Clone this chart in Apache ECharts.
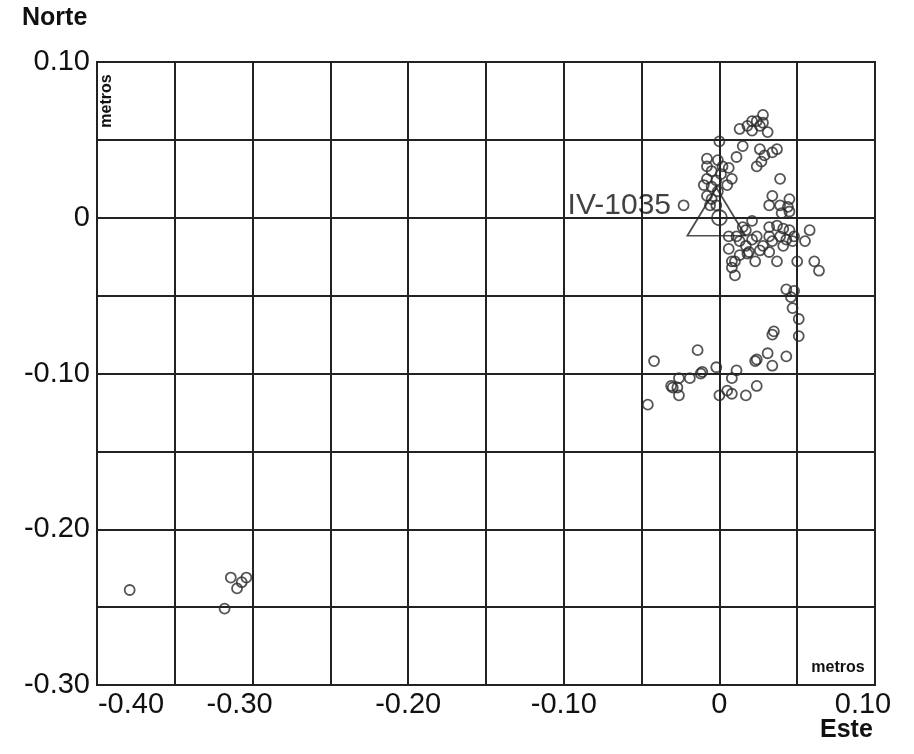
<!DOCTYPE html>
<html>
<head>
<meta charset="utf-8">
<script src="https://cdn.jsdelivr.net/npm/echarts@6/dist/echarts.min.js"></script>
<style>html,body{margin:0;padding:0;background:#fff}#c{width:914px;height:754px}</style>
</head>
<body>
<div id="c"></div>
<script>
// Axis tick labels
const xTickLabels = {'-40':'-0.40','-30':'-0.30','-20':'-0.20','-10':'-0.10','0':'0','10':'0.10'};
const yTickLabels = {'10':'0.10','0':'0','-10':'-0.10','-20':'-0.20','-30':'-0.30'};

// Station IV-1035 (reference point)
const stationName = 'IV-1035';
const stationPoint = [[0, 0]];

// Displacement observations (Este, Norte) in metres
const obsEste = [
 0.028,0.024,0.021,0.018,0.013,0.021,0.026,0.031,0.028,0.000,0.015,0.026,0.034,0.037,0.011,0.029,
 -0.008,-0.001,0.002,0.027,0.024,-0.008,0.006,-0.005,0.001,0.008,-0.008,-0.002,0.039,-0.010,-0.005,0.005,
 -0.001,-0.008,-0.005,0.034,0.045,0.032,0.039,0.044,-0.006,-0.002,-0.023,0.040,0.045,0.021,0.015,0.017,
 0.032,0.037,0.041,0.045,0.058,0.006,0.011,0.013,0.021,0.024,0.032,0.039,0.043,0.048,0.034,0.041,
 0.047,0.055,0.028,0.017,0.006,0.026,0.019,0.013,0.032,0.018,0.023,0.010,0.008,0.037,0.050,0.061,
 0.064,0.008,0.010,0.043,0.048,
 0.046,0.047,0.051,0.051,0.035,0.034,0.031,0.043,0.034,0.024,0.023,-0.014,-0.042,-0.002,-0.011,-0.012,
 0.011,0.008,-0.019,-0.026,-0.031,-0.027,-0.030,-0.026,0.000,0.005,0.008,0.017,0.024,-0.046,
 -0.379,-0.314,-0.310,-0.307,-0.304,-0.318
];
const obsNorte = [
 0.066,0.062,0.062,0.059,0.057,0.056,0.059,0.055,0.061,0.049,0.046,0.044,0.042,0.044,0.039,0.040,
 0.038,0.037,0.033,0.036,0.033,0.033,0.032,0.030,0.028,0.025,0.025,0.024,0.025,0.021,0.020,0.021,
 0.017,0.014,0.012,0.014,0.012,0.008,0.008,0.007,0.008,0.008,0.008,0.003,0.004,-0.002,-0.006,-0.008,
 -0.006,-0.005,-0.007,-0.008,-0.008,-0.012,-0.012,-0.015,-0.014,-0.012,-0.012,-0.012,-0.014,-0.012,-0.015,-0.018,
 -0.015,-0.015,-0.018,-0.018,-0.020,-0.021,-0.022,-0.024,-0.022,-0.023,-0.028,-0.028,-0.028,-0.028,-0.028,-0.028,
 -0.034,-0.032,-0.037,-0.046,-0.047,
 -0.051,-0.058,-0.065,-0.076,-0.073,-0.075,-0.087,-0.089,-0.095,-0.091,-0.092,-0.085,-0.092,-0.096,-0.099,-0.100,
 -0.098,-0.103,-0.103,-0.103,-0.108,-0.109,-0.109,-0.114,-0.114,-0.111,-0.113,-0.114,-0.108,-0.120,
 -0.239,-0.231,-0.238,-0.234,-0.231,-0.251
];

const obs = obsEste.map((x, i) => [x, obsNorte[i]]);
const key = v => String(Math.round(v * 100));

const chart = echarts.init(document.getElementById('c'), null, {renderer: 'canvas'});
const font = 'Liberation Sans, Arial, sans-serif';
const fs = 29;
chart.setOption({
  animation: false,
  backgroundColor: '#fff',
  grid: {left: 97, right: 39, top: 62, bottom: 69, show: true, borderColor: '#222', borderWidth: 2},
  xAxis: {
    type: 'value', min: -0.40, max: 0.10, interval: 0.05,
    axisLine: {show: false}, axisTick: {show: false},
    splitLine: {show: true, lineStyle: {color: '#222', width: 2}},
    axisLabel: {
      interval: 1, margin: 5, color: '#111', fontSize: fs, fontFamily: font,
      formatter: v => {
        const k = key(v);
        const t = xTickLabels[k];
        if (t === undefined) return '';
        if (k === '-40') return '{a|' + t + '}';
        if (k === '-30') return '{b|' + t + '}';
        if (k === '10') return '{c|' + t + '}';
        return t;
      },
      rich: {
        a: {fontSize: fs, fontFamily: font, color: '#111', padding: [0, 0, 0, 68]},
        b: {fontSize: fs, fontFamily: font, color: '#111', padding: [0, 26, 0, 0]},
        c: {fontSize: fs, fontFamily: font, color: '#111', padding: [0, 24, 0, 0]}
      }
    }
  },
  yAxis: {
    type: 'value', min: -0.30, max: 0.10, interval: 0.05,
    axisLine: {show: false}, axisTick: {show: false},
    splitLine: {show: true, lineStyle: {color: '#222', width: 2}},
    axisLabel: {
      margin: 7, color: '#111', fontSize: fs, fontFamily: font,
      formatter: v => { const t = yTickLabels[key(v)]; return t === undefined ? '' : t; }
    }
  },
  series: [
    {
      type: 'scatter', data: obs, symbol: 'circle', symbolSize: 10,
      itemStyle: {color: 'rgba(0,0,0,0)', borderColor: '#2a2a2a', borderWidth: 1.8}
    },
    {
      type: 'scatter', data: stationPoint, symbol: 'triangle', symbolSize: [58, 48], symbolOffset: [-3, -6],
      itemStyle: {color: 'rgba(0,0,0,0)', borderColor: '#222', borderWidth: 1.8}, z: 3
    },
    {
      type: 'scatter', data: stationPoint, symbol: 'circle', symbolSize: 15,
      itemStyle: {color: 'rgba(0,0,0,0)', borderColor: '#2a2a2a', borderWidth: 1.8}, z: 4,
      label: {
        show: true, position: 'left', distance: 40, offset: [0, -12],
        formatter: stationName, fontSize: 30, fontFamily: font, color: '#111'
      }
    }
  ],
  graphic: [
    {type: 'text', left: 22, top: 6, style: {text: 'Norte', font: 'bold 25px ' + font, fill: '#111'}},
    {type: 'text', left: 820, top: 718, style: {text: 'Este', font: 'bold 25px ' + font, fill: '#111'}},
    {type: 'text', x: 107, y: 101, rotation: Math.PI / 2,
     style: {text: 'metros', font: 'bold 16px ' + font, fill: '#111', align: 'center', verticalAlign: 'middle'}},
    {type: 'text', x: 838, y: 668,
     style: {text: 'metros', font: 'bold 16px ' + font, fill: '#111', align: 'center', verticalAlign: 'middle'}}
  ]
});
</script>
</body>
</html>
